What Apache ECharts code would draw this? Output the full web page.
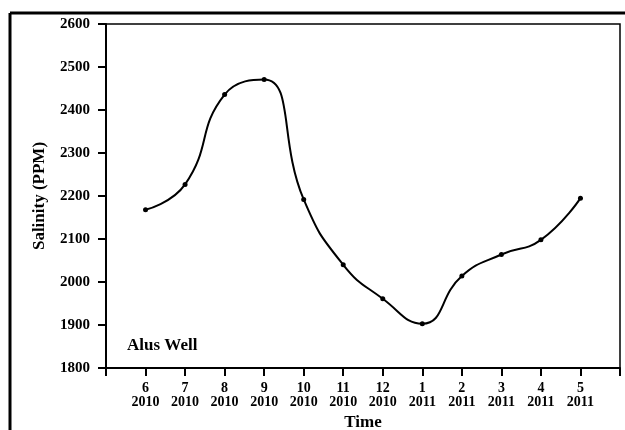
<!DOCTYPE html>
<html>
<head>
<meta charset="utf-8">
<script src="https://cdn.jsdelivr.net/npm/echarts@6/dist/echarts.min.js"></script>
<style>
html,body{margin:0;padding:0;background:#fff;}
#c{width:625px;height:430px;}
</style>
</head>
<body>
<div id="c"></div>
<script>
const months = ['6','7','8','9','10','11','12','1','2','3','4','5'];
const years = ['2010','2010','2010','2010','2010','2010','2010','2011','2011','2011','2011','2011'];
const salinity = [2168, 2227, 2436, 2471, 2192, 2040, 1961, 1903, 2014, 2064, 2098, 2195];
const yTicks = [1800, 2600, 100];

const FONT = '"Liberation Serif", "Times New Roman", serif';
const chart = echarts.init(document.getElementById('c'), null, {renderer: 'canvas'});
const pts = salinity.map((v, i) => [i + 1, v]);

chart.setOption({
  animation: false,
  backgroundColor: '#fff',
  grid: {left: 106, top: 24, right: 5, bottom: 62, containLabel: false, outerBoundsMode: 'none',
         show: true, borderColor: '#000', borderWidth: 1.5, backgroundColor: 'transparent'},
  xAxis: {
    type: 'value', min: 0, max: months.length + 1, interval: 1,
    name: 'Time', nameLocation: 'middle', nameGap: 45,
    nameTextStyle: {fontFamily: FONT, fontWeight: 'bold', fontSize: 17, color: '#000'},
    axisLine: {lineStyle: {color: '#000', width: 2}},
    axisTick: {length: 8, lineStyle: {color: '#000', width: 2}},
    splitLine: {show: false},
    axisLabel: {
      margin: 13, color: '#000', fontFamily: FONT, fontWeight: 'bold', fontSize: 14, lineHeight: 14,
      formatter: v => (v >= 1 && v <= months.length) ? months[v - 1] + '\n' + years[v - 1] : ''
    }
  },
  yAxis: {
    type: 'value', min: yTicks[0], max: yTicks[1], interval: yTicks[2],
    name: 'Salinity (PPM)', nameLocation: 'middle', nameGap: 58,
    nameTextStyle: {fontFamily: FONT, fontWeight: 'bold', fontSize: 17, color: '#000'},
    axisLine: {lineStyle: {color: '#000', width: 2}},
    axisTick: {length: 8, lineStyle: {color: '#000', width: 2}},
    splitLine: {show: false},
    axisLabel: {margin: 16, color: '#000', fontFamily: FONT, fontWeight: 'bold', fontSize: 15, formatter: v => String(v)}
  },
  graphic: [
    {type: 'line', shape: {x1: 10, y1: 13, x2: 625, y2: 13}, style: {stroke: '#000', lineWidth: 3}},
    {type: 'line', shape: {x1: 10, y1: 13, x2: 10, y2: 430}, style: {stroke: '#000', lineWidth: 3}},
    {type: 'text', left: 127, top: 337, style: {text: 'Alus Well', fontFamily: FONT, fontWeight: 'bold', fontSize: 17, fill: '#000'}}
  ],
  series: [{
    type: 'line', data: pts, smooth: 0.5,
    symbol: 'circle', symbolSize: 5,
    itemStyle: {color: '#000'},
    lineStyle: {color: '#000', width: 2}
  }]
});
</script>
</body>
</html>
